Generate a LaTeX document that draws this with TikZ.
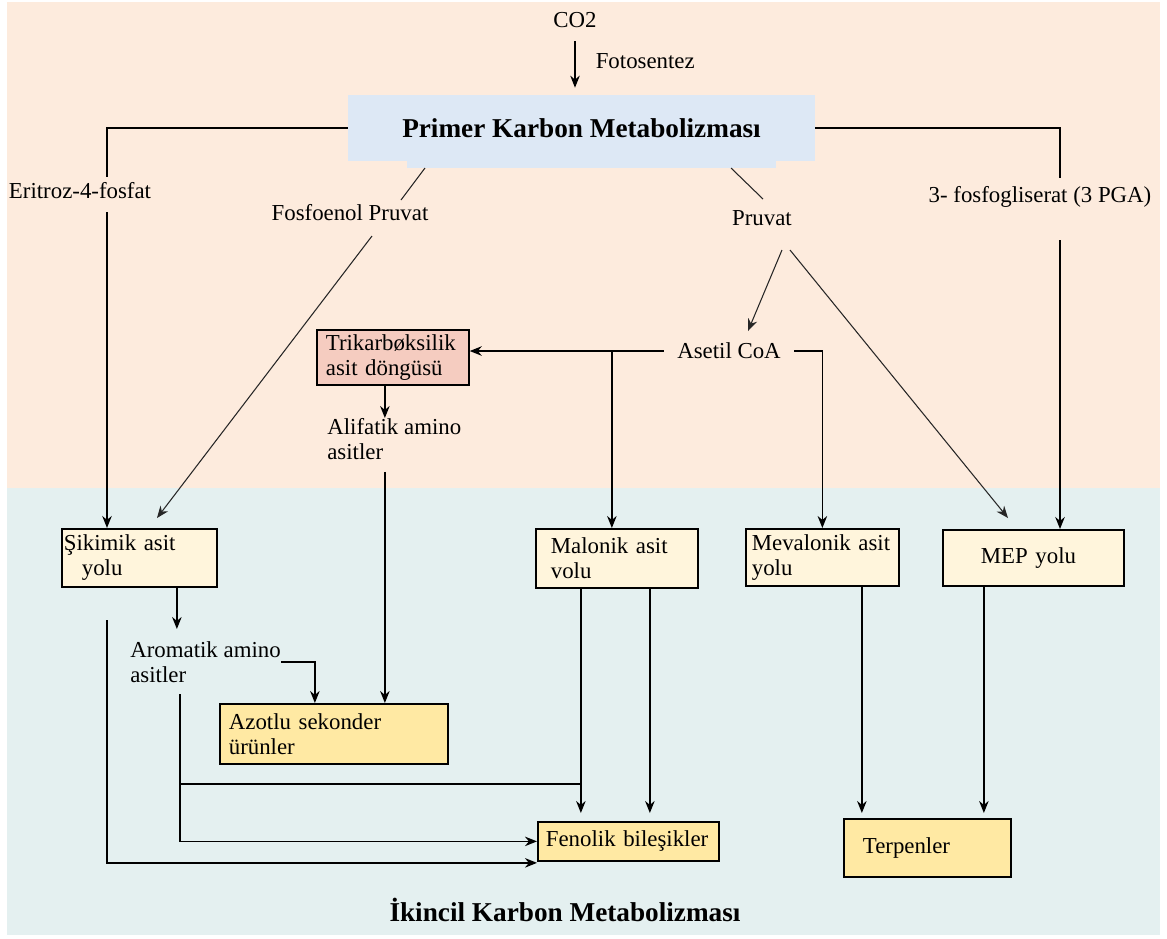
\documentclass[tikz,border=0pt]{standalone}
\usepackage{fontspec}
\setmainfont{Liberation Serif}
\usetikzlibrary{arrows.meta}
\definecolor{peach}{HTML}{FDEBDD}
\definecolor{lightsea}{HTML}{E4F0F0}
\definecolor{primerblue}{HTML}{DDE8F5}
\definecolor{tcapink}{HTML}{F5CCC0}
\definecolor{cream}{HTML}{FFF5DC}
\definecolor{butter}{HTML}{FFE9A3}
\tikzstyle{block} = [rectangle, draw=black, line width=1pt, anchor=north west, align=left, inner ysep=0pt, font=\fontsize{13}{14.2}\selectfont]
\tikzstyle{lbl} = [inner sep=0pt, align=left, font=\fontsize{13}{14.2}\selectfont]
\tikzstyle{title} = [inner sep=0pt, font=\fontsize{15.5}{18}\selectfont\bfseries]
\tikzstyle{line} = [line width=0.9pt]
\tikzstyle{thinline} = [line width=0.6pt, black!85]
\tikzstyle{arrow} = [line width=0.9pt, -{Stealth[length=2.4mm,width=1.9mm]}]
\tikzstyle{thinarrow} = [line width=0.6pt, black!85, -{Stealth[length=2.4mm,width=1.9mm]}]

\begin{document}
\begin{tikzpicture}[x=0.02cm, y=-0.02cm]
    % two zones
    \useasboundingbox (0,0) rectangle (1167,938);
    \fill [peach] (7,2) rectangle (1160,488);
    \fill [lightsea] (7,488) rectangle (1160,935);
    \fill [primerblue] (407,150) rectangle (776,168);

    % nodes
    \node (co2) [lbl] at (575,20) {CO2};
    \node (primer) [title, rectangle, fill=primerblue, minimum width=9.34cm, minimum height=1.32cm] at (581.5,128) {Primer Karbon Metabolizması};
    \node (eritroz) [lbl] at (80,191) {Eritroz-4-fosfat};
    \node (fep) [lbl] at (350,213) {Fosfoenol Pruvat};
    \node (pruvat) [lbl] at (762,218) {Pruvat};
    \node (pga) [lbl] at (1040,197) {3- fosfogliserat (3 PGA)};
    \node (asetil) [lbl, inner xsep=0.26cm] at (729,351) {Asetil CoA};
    \node (tri) [block, fill=tcapink, inner xsep=0.18cm, text width=2.68cm, minimum height=1.1cm] at (316,329) {Trikarbøksilik\\asit döngüsü};
    \node (alifatik) [lbl, anchor=north west] at (327,418) {Alifatik amino\\asitler};
    \node (sikimik) [block, fill=cream, inner xsep=0.04cm, text width=3.02cm, minimum height=1.16cm] at (61,528) {Şikimik asit\\\hspace*{0.36cm}yolu};
    \node (malonik) [block, fill=cream, inner xsep=0.3cm, text width=2.64cm, minimum height=1.18cm] at (535,528) {Malonik asit\\volu};
    \node (mevalonik) [block, fill=cream, inner xsep=0.12cm, text width=2.82cm, minimum height=1.14cm] at (745,528) {Mevalonik asit\\yolu};
    \node (mep) [block, fill=cream, inner xsep=0.76cm, text width=2.1cm, minimum height=1.12cm] at (942,529) {MEP yolu};
    \node (aromatik) [lbl, anchor=north west] at (130,641) {Aromatik amino\\asitler};
    \node (azotlu) [block, fill=butter, inner xsep=0.18cm, text width=4.2cm, minimum height=1.2cm] at (219,703) {Azotlu sekonder\\ürünler};
    \node (fenolik) [block, fill=butter, inner xsep=0.16cm, text width=3.3cm, minimum height=0.78cm] at (537,821) {Fenolik bileşikler};
    \node (terpen) [block, fill=butter, inner xsep=0.38cm, text width=2.58cm, minimum height=1.16cm] at (843,818) {Terpenler};
    \node (ikincil) [title] at (565,910) {İkincil Karbon Metabolizması};

    % free ends
    \coordinate (eritrozTop) at (107,177);
    \coordinate (eritrozBot) at (107,212);
    \coordinate (pgaTop) at (1060,178);
    \coordinate (pgaBot) at (1060,240);
    \coordinate (fepA) at (425,168);
    \coordinate (fepB) at (401,200);
    \coordinate (fepC) at (372,236);
    \coordinate (fepTip) at (157,518);
    \coordinate (pruA) at (731,168);
    \coordinate (pruB) at (763,199);
    \coordinate (pruC) at (782,250);
    \coordinate (pruTip) at (748,331);
    \coordinate (pruD) at (790,250);
    \coordinate (pruMep) at (1008,518);
    \coordinate (triOut) at ([xshift=-0.16cm]tri.south);
    \coordinate (malIn) at ([xshift=-0.1cm]malonik.north);
    \coordinate (sikOut) at ([xshift=0.75cm]sikimik.south);
    \coordinate (sikLow) at (107,620);
    \coordinate (aroLow) at (180,694);
    \coordinate (joinL) at (180,784);
    \coordinate (malA) at ([xshift=-0.72cm]malonik.south);
    \coordinate (malB) at ([xshift=0.66cm]malonik.south);
    \coordinate (mevOut) at ([xshift=0.79cm]mevalonik.south);
    \coordinate (mepOut) at ([xshift=-0.99cm]mep.south);

    % primer metabolism
    \draw [arrow, shorten <=0.26cm, shorten >=0.14cm] (co2.south) -- (co2.south |- primer.north) node[lbl, midway, right=0.4cm] {Fotosentez};
    \draw [line] (primer.west) -| (eritrozTop);
    \draw [arrow] (eritrozBot) -- (eritrozBot |- sikimik.north);
    \draw [line] (primer.east) -| (pgaTop);
    \draw [arrow] (pgaBot) -- (pgaBot |- mep.north);
    \draw [thinline] (fepA) -- (fepB);
    \draw [thinarrow] (fepC) -- (fepTip);
    \draw [thinline] (pruA) -- (pruB);
    \draw [thinarrow] (pruC) -- (pruTip);
    \draw [thinarrow] (pruD) -- (pruMep);
    \draw [arrow] (asetil.west) -- (asetil.west -| tri.east);
    \draw [arrow] (asetil.west -| malIn) -- (malIn);
    \draw [arrow] (asetil.east) -| (mevalonik.north);
    \draw [arrow] (triOut) -- (triOut |- alifatik.north);
    \draw [arrow, shorten <=0.24cm] (alifatik.south -| triOut) -- (triOut |- azotlu.north);

    % secondary metabolism
    \draw [arrow, shorten >=0.24cm] (sikOut) -- (sikOut |- aromatik.north);
    \draw [arrow] (aromatik.east) -| ([xshift=-0.38cm]azotlu.north);
    \draw [arrow] (sikLow) |- ([yshift=-0.43cm]fenolik.west);
    \draw [arrow] (aroLow) |- (fenolik.west);
    \draw [line] (joinL) -- (joinL -| malA);
    \draw [arrow, shorten >=0.16cm] (malA) -- (malA |- fenolik.north);
    \draw [arrow, shorten >=0.16cm] (malB) -- (malB |- fenolik.north);
    \draw [arrow, shorten >=0.1cm] (mevOut) -- (mevOut |- terpen.north);
    \draw [arrow, shorten >=0.1cm] (mepOut) -- (mepOut |- terpen.north);
\end{tikzpicture}
\end{document}
